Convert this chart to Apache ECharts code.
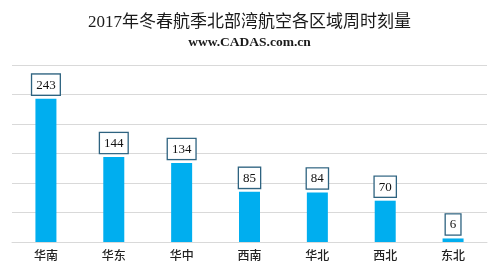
<!DOCTYPE html>
<html>
<head>
<meta charset="utf-8">
<script src="https://cdn.jsdelivr.net/npm/echarts@6/dist/echarts.min.js"></script>
<style>html,body{margin:0;padding:0;background:#fff}#c{width:499px;height:273px}</style>
</head>
<body>
<div id="c"></div>
<script>
const categories = ['华南', '华东', '华中', '西南', '华北', '西北', '东北'];
const values = [243, 144, 134, 85, 84, 70, 6];
const titleText = '2017年冬春航季北部湾航空各区域周时刻量';
const subtitleText = 'www.CADAS.com.cn';

const serif = '"Liberation Serif", "DejaVu Serif", "Noto Sans CJK SC", serif';
const chart = echarts.init(document.getElementById('c'));
chart.setOption({
  animation: false,
  backgroundColor: '#fff',
  title: [{
    text: titleText,
    left: 'center', top: 9,
    textStyle: { fontFamily: serif, fontSize: 17, fontWeight: 'normal', color: '#1a1a1a' }
  }, {
    text: subtitleText,
    left: 'center', top: 31,
    textStyle: { fontFamily: serif, fontSize: 13.5, fontWeight: 'bold', color: '#1a1a1a' }
  }],
  grid: { left: 12, right: 12, top: 65, bottom: 31, containLabel: false },
  xAxis: {
    type: 'category', data: categories,
    axisLine: { show: true, lineStyle: { color: '#d9d9d9', width: 1 } },
    axisTick: { show: false },
    axisLabel: { fontFamily: serif, fontSize: 12, color: '#222', margin: 9, fontWeight: 500 }
  },
  yAxis: {
    type: 'value', min: 0, max: 300, interval: 50,
    axisLabel: { show: false },
    axisLine: { show: false }, axisTick: { show: false },
    splitLine: { lineStyle: { color: '#d9d9d9', width: 1 } }
  },
  series: [{
    type: 'bar', data: values, barWidth: 21,
    itemStyle: { color: '#00aeef' },
    label: {
      show: true, position: 'top', distance: 4,
      fontFamily: serif, fontSize: 13, color: '#111',
      backgroundColor: '#fff', borderColor: '#2e6380', borderWidth: 1.3,
      padding: [4, 4, 3, 4]
    }
  }]
});
</script>
</body>
</html>
